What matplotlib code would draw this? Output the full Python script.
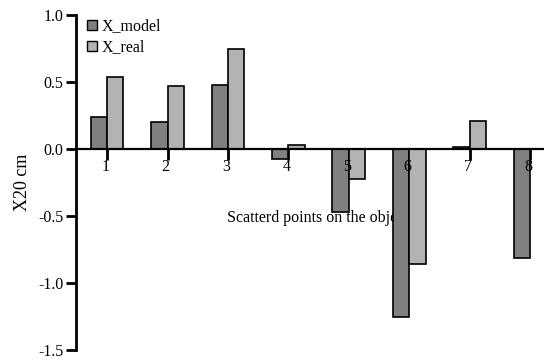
import matplotlib
matplotlib.use("Agg")
import matplotlib.pyplot as plt
from matplotlib.lines import Line2D

plt.rcParams['font.family'] = ['Liberation Serif', 'DejaVu Serif']
plt.rcParams['axes.unicode_minus'] = False

points = [1, 2, 3, 4, 5, 6, 7, 8]
x_model = [0.24, 0.20, 0.48, -0.075, -0.47, -1.25, 0.02, -0.81]
x_real = [0.54, 0.47, 0.75, 0.03, -0.22, -0.86, 0.21, 0.0]
yticks = [-1.5, -1.0, -0.5, 0.0, 0.5, 1.0]

dark = '#808080'
light = '#b3b3b3'
w = 0.27

fig = plt.figure(figsize=(5.44, 3.6), dpi=100)
ax = fig.add_axes([0.14, 0.027, 0.86, 0.931])

ax.bar([p - w / 2 for p in points], x_model, width=w, color=dark,
       edgecolor='black', linewidth=1.2, zorder=2)
ax.bar([p + w / 2 for p in points], x_real, width=w, color=light,
       edgecolor='black', linewidth=1.2, zorder=2)

ax.set_xlim(0.488, 8.23)
ax.set_ylim(-1.5, 1.0)
ax.set_axisbelow(True)

for s in ['top', 'right']:
    ax.spines[s].set_visible(False)
ax.spines['bottom'].set_position(('data', 0))
ax.spines['bottom'].set_linewidth(1.6)
ax.spines['left'].set_linewidth(2)

ax.set_yticks(yticks)
ax.set_yticklabels(['%.1f' % v for v in yticks], fontsize=11.5)
ax.tick_params(axis='y', direction='out', length=7, width=2, pad=2)
ax.set_xticks(points)
ax.set_xticklabels([])
ax.tick_params(axis='x', direction='out', length=8, width=2)

# category numbers drawn on top of the bars
for p in points:
    ax.text(p - 0.03, -0.07, str(p), ha='center', va='top', fontsize=11.5, zorder=5)

ax.text(4.49, -0.51, 'Scatterd points on the object', ha='center', va='center',
        fontsize=11.5, zorder=1)

ax.set_ylabel('X20 cm', fontsize=13)
ax.yaxis.set_label_coords(-0.097, 0.5)

handles = [Line2D([], [], marker='s', linestyle='none', markersize=7,
                  markerfacecolor=dark, markeredgecolor='black', markeredgewidth=1),
           Line2D([], [], marker='s', linestyle='none', markersize=7,
                  markerfacecolor=light, markeredgecolor='black', markeredgewidth=1)]
ax.legend(handles, ['X_model', 'X_real'], loc='upper left', bbox_to_anchor=(0.013, 1.0),
          frameon=False, fontsize=11.5, handlelength=0.8, handletextpad=0.2,
          labelspacing=0.3, borderaxespad=0, borderpad=0.2)

fig.savefig('out.png', dpi=100)
